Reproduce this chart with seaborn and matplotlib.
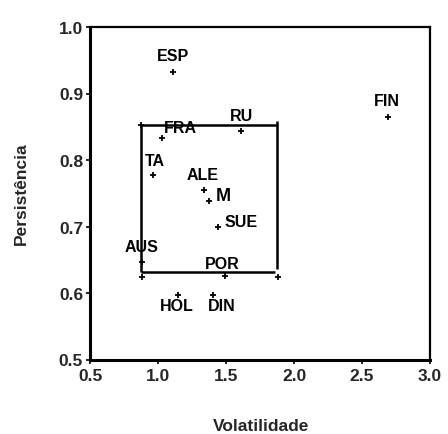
import matplotlib
matplotlib.use("Agg")
import matplotlib.pyplot as plt
import seaborn as sns
import pandas as pd

countries = ["ESP", "FRA", "RU", "FIN", "TA", "ALE", "M", "SUE", "AUS", "POR", "HOL", "DIN"]
volatility = [1.11, 1.03, 1.61, 2.69, 0.965, 1.34, 1.375, 1.443, 0.88, 1.49, 1.145, 1.407]
persistence = [0.932, 0.833, 0.844, 0.865, 0.777, 0.755, 0.738, 0.699, 0.646, 0.626, 0.597, 0.597]

# box segments (x0, x1, y0, y1)
box_segments = [
    (0.875, 1.873, 0.853, 0.853),   # top
    (0.875, 0.875, 0.853, 0.631),   # left
    (0.875, 1.860, 0.631, 0.631),   # bottom
    (1.873, 1.873, 0.858, 0.636),   # right
]
corner_x = [0.875, 0.88, 1.885]
corner_y = [0.853, 0.624, 0.624]

x_ticks = [0.5, 1.0, 1.5, 2.0, 2.5, 3.0]
y_ticks = [0.5, 0.6, 0.7, 0.8, 0.9, 1.0]

# label offsets in pixels (dx, dy), label centred there
offsets = {
    "ESP": (0, 16.6), "FRA": (18.3, 10.7), "RU": (0.7, 15), "FIN": (-1, 16),
    "TA": (1.7, 14.3), "ALE": (-2, 15), "M": (14.3, 5.6), "SUE": (22.4, 5.6),
    "AUS": (0.3, 15.6), "POR": (-2.3, 12.7), "HOL": (-1, -11), "DIN": (8.4, -11),
}

sns.set_theme(style="white")
plt.rcParams["font.family"] = ["Liberation Sans", "DejaVu Sans"]
plt.rcParams["font.weight"] = "bold"

fig = plt.figure(figsize=(4.48, 4.35), dpi=100)
ax = fig.add_axes([90 / 448, 1 - 360.5 / 435, 340 / 448, 332.5 / 435])

df = pd.DataFrame({"Volatilidade": volatility, "Persistência": persistence, "pais": countries})

for x0, x1, y0, y1 in box_segments:
    ax.plot([x0, x1], [y0, y1], color="black", lw=1.8, solid_capstyle="butt")
sns.scatterplot(data=df, x="Volatilidade", y="Persistência", marker="+", s=24,
                color="black", linewidth=1.3, ax=ax, legend=False)
ax.scatter(corner_x, corner_y, marker="+", s=24, color="black", linewidth=1.3)

for name, xv, yv in zip(countries, volatility, persistence):
    dx, dy = offsets[name]
    fs = 13 if name == "M" else 11.5
    ax.annotate(name, (xv, yv), xytext=(dx, dy), textcoords="offset pixels",
                ha="center", va="center", fontsize=fs, fontweight="bold", color="black")

ax.set_xlim(0.5, 3.0)
ax.set_ylim(0.5, 1.0)
ax.set_xticks(x_ticks)
ax.set_yticks(y_ticks)
ax.set_xticklabels([f"{v:.1f}" for v in x_ticks], fontsize=12.5, fontweight="bold")
ax.set_yticklabels([f"{v:.1f}" for v in y_ticks], fontsize=12.5, fontweight="bold")
ax.tick_params(axis="both", direction="out", length=3, width=1.2, color="black",
               bottom=True, left=True, pad=2)
ax.tick_params(axis="x", pad=3)

for sp in ax.spines.values():
    sp.set_color("black")
    sp.set_linewidth(1.6)
ax.spines["left"].set_linewidth(2.2)
ax.spines["bottom"].set_linewidth(2.2)

ax.set_xlabel("")
ax.set_ylabel("")
fig.text(261 / 448, 1 - 427 / 435, "Volatilidade", ha="center", va="center",
         fontsize=12.5, fontweight="bold")
fig.text(21.7 / 448, 1 - 194 / 435, "Persistência", ha="center", va="center",
         rotation=90, fontsize=12.5, fontweight="bold")

fig.savefig("out.png", dpi=100, facecolor="white")
